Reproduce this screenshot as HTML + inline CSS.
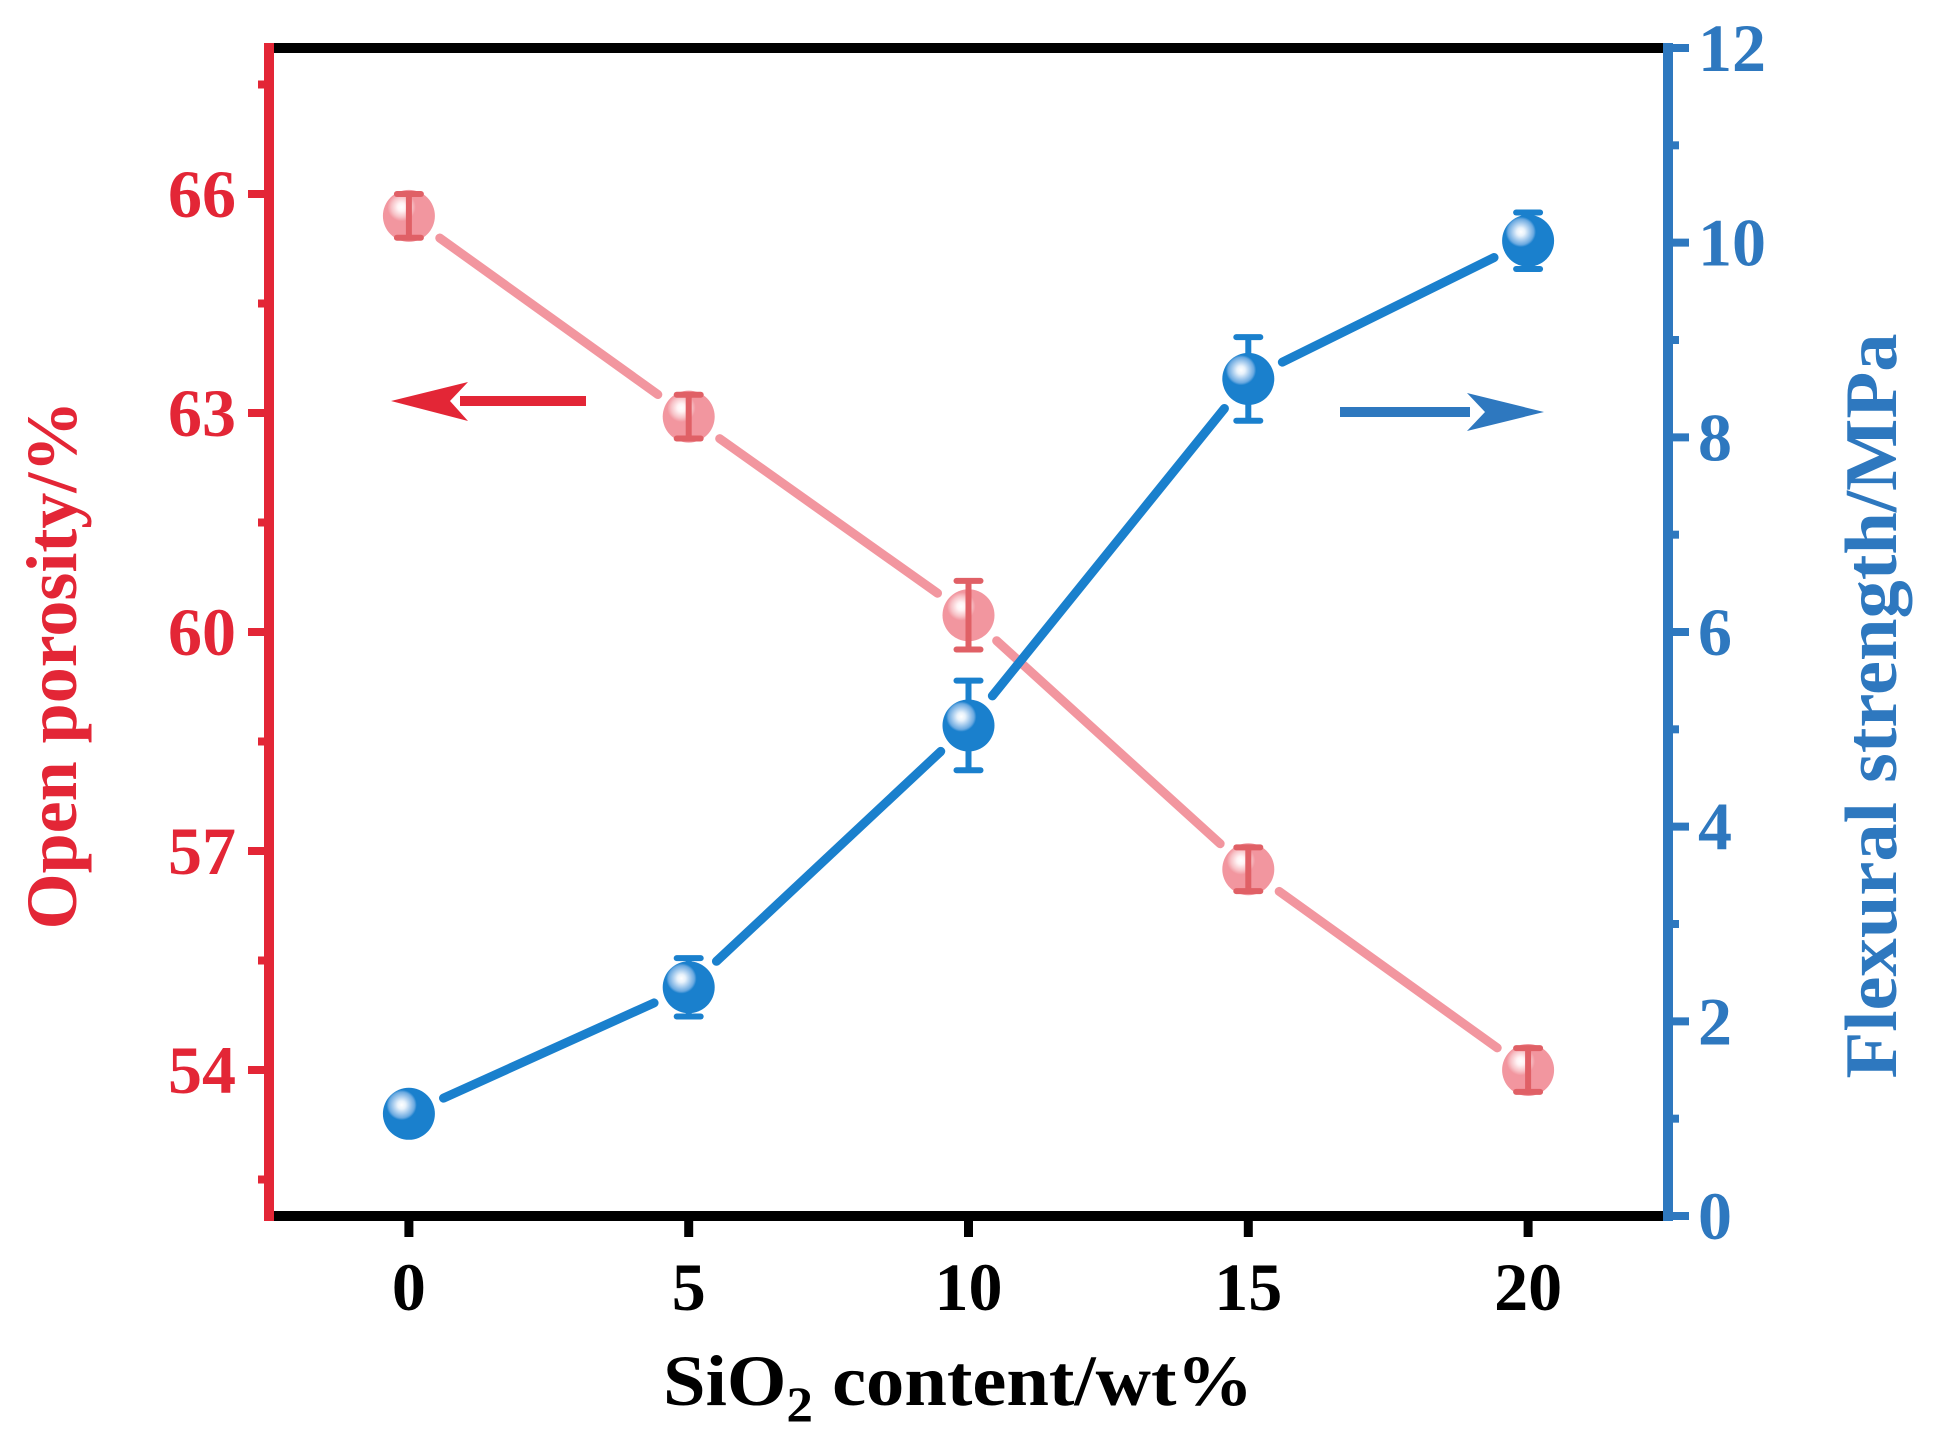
<!DOCTYPE html>
<html><head><meta charset="utf-8"><style>
html,body{margin:0;padding:0;background:#fff;width:1937px;height:1451px;overflow:hidden;position:relative}
svg{display:block}
text{font-family:"Liberation Serif",serif;font-weight:bold}
</style></head><body>
<svg id="chart" style="position:absolute;left:0;top:0" width="1937" height="1451" viewBox="0 0 1937 1451">
<defs>
<radialGradient id="gr" cx="0.36" cy="0.33" r="0.65">
<stop offset="0" stop-color="#ffffff"/><stop offset="0.12" stop-color="#fff3f4"/><stop offset="0.3" stop-color="#f7c2c7"/><stop offset="0.42" stop-color="#f2969f"/><stop offset="1" stop-color="#f2969f"/></radialGradient>
<radialGradient id="gb" cx="0.36" cy="0.33" r="0.65">
<stop offset="0" stop-color="#ffffff"/><stop offset="0.12" stop-color="#e8f2fb"/><stop offset="0.25" stop-color="#a9cdee"/><stop offset="0.38" stop-color="#6aa9e0"/><stop offset="0.45" stop-color="#1a80cd"/><stop offset="1" stop-color="#1a80cd"/></radialGradient>
</defs>
<g id="marks"></g>
<g id="axes"></g>
</svg>
<script>
const categories=[0,5,10,15,20];
const porosity=[65.7,62.95,60.23,56.75,54.0];
const porosityErr=[0.3,0.3,0.47,0.3,0.3];
const strength=[1.05,2.35,5.04,8.6,10.02];
const strengthErr=[0.05,0.3,0.46,0.43,0.29];
const xTicks=[0,5,10,15,20];
const leftTicks=[54,57,60,63,66];
const rightTicks=[0,2,4,6,8,10,12];

const NS='http://www.w3.org/2000/svg';
const PL=269,PR=1668,PT=48,PB=1216;
const xS=v=>PL+(v+2.5)/25*(PR-PL);
const yL=v=>PB-(v-52)/16*(PB-PT);
const yR=v=>PB-v/12*(PB-PT);
const RED='#e32636',BLUE='#2e78bf';
const marksG=document.getElementById('marks'),axesG=document.getElementById('axes');
function mk(tag,attrs,parent){const e=document.createElementNS(NS,tag);for(const k in attrs)e.setAttribute(k,attrs[k]);parent.appendChild(e);return e;}

function series(vals,errs,ys,lineCol,errCol,grad,name,errOnTop){
  const pts=vals.map((v,i)=>[xS(categories[i]),ys(v)]);
  for(let i=0;i<pts.length-1;i++){
    const [x1,y1]=pts[i],[x2,y2]=pts[i+1];
    const d=Math.hypot(x2-x1,y2-y1),g=38;
    const ux=(x2-x1)/d,uy=(y2-y1)/d;
    const s=mk('line',{x1:x1+ux*g,y1:y1+uy*g,x2:x2-ux*g,y2:y2-uy*g,stroke:lineCol,'stroke-width':9,'stroke-linecap':'round'},marksG);
    
    
  }
  pts.forEach(([x,y],i)=>{
    const e=errs[i];
    let c;
    if(errOnTop){
      c=mk('circle',{cx:x,cy:y,r:26,fill:'url(#'+grad+')'},marksG);
    }
    const eb=mk('g',{},marksG);
    
    
    const yt=ys(vals[i]+e),yb=ys(vals[i]-e);
    mk('line',{x1:x,y1:yt,x2:x,y2:yb,stroke:errCol,'stroke-width':6},eb);
    mk('line',{x1:x-12,y1:yt,x2:x+12,y2:yt,stroke:errCol,'stroke-width':6,'stroke-linecap':'round'},eb);
    mk('line',{x1:x-12,y1:yb,x2:x+12,y2:yb,stroke:errCol,'stroke-width':6,'stroke-linecap':'round'},eb);
    if(!errOnTop){
      c=mk('circle',{cx:x,cy:y,r:26,fill:'url(#'+grad+')'},marksG);
    }
    
    
  });
}
series(porosity,porosityErr,yL,'#f2969f','#e06066','gr','porosity',true);
series(strength,strengthErr,yR,'#1a80cd','#1a80cd','gb','strength',false);

const topB=mk('line',{x1:PL,y1:PT,x2:PR,y2:PT,stroke:'#000','stroke-width':10},axesG);


const botB=mk('line',{x1:PL,y1:PB,x2:PR+5,y2:PB,stroke:'#000','stroke-width':10},axesG);


const la=mk('line',{x1:PL,y1:PT-5,x2:PL,y2:PB+5,stroke:RED,'stroke-width':10},axesG);


const ra=mk('line',{x1:PR,y1:PT-5,x2:PR,y2:PB+5,stroke:BLUE,'stroke-width':10},axesG);



xTicks.forEach(v=>{
  const x=xS(v);
  mk('line',{x1:x,y1:PB,x2:x,y2:PB+21,stroke:'#000','stroke-width':9},axesG);
  const t=mk('text',{x:x,y:1310,'text-anchor':'middle','font-size':68,fill:'#000'},axesG);
  t.textContent=v;
  
  
});
for(let v=52.5;v<68;v+=1.5){
  const y=yL(v),major=leftTicks.includes(v);
  mk('line',{x1:PL,y1:y,x2:PL-(major?21:11),y2:y,stroke:RED,'stroke-width':8},axesG);
}
leftTicks.forEach(v=>{
  const t=mk('text',{x:236,y:yL(v)+23,'text-anchor':'end','font-size':68,fill:RED},axesG);
  t.textContent=v;
  
  
});
for(let v=0;v<=12;v+=1){
  const y=yR(v),major=v%2===0;
  mk('line',{x1:PR,y1:y,x2:PR+(major?21:11),y2:y,stroke:BLUE,'stroke-width':8},axesG);
}
rightTicks.forEach(v=>{
  const t=mk('text',{x:1698,y:yR(v)+23,'text-anchor':'start','font-size':68,fill:BLUE},axesG);
  t.textContent=v;
  
  
});
</script>
<svg style="position:absolute;left:0;top:0" width="1937" height="1451">
<text x="958" y="1405" text-anchor="middle" font-size="72" fill="#000" textLength="590" lengthAdjust="spacingAndGlyphs">SiO<tspan font-size="50" dy="16">2</tspan><tspan dy="-16"> content/wt%</tspan></text>
<text transform="translate(76,665) rotate(-90)" text-anchor="middle" font-size="72" fill="#e32636">Open porosity/%</text>
<text transform="translate(1896,706) rotate(-90)" text-anchor="middle" font-size="74" fill="#2e78bf" textLength="745" lengthAdjust="spacingAndGlyphs">Flexural strength/MPa</text>
<g>
<rect x="460" y="396" width="126" height="10" fill="#e32636"/>
<polygon points="391,401 468,382 450,401 468,421" fill="#e32636"/>
</g>
<g>
<rect x="1340" y="407" width="130" height="10" fill="#2e78bf"/>
<polygon points="1544,412 1467,393 1485,412 1467,431" fill="#2e78bf"/>
</g>
</svg>
</body></html>
